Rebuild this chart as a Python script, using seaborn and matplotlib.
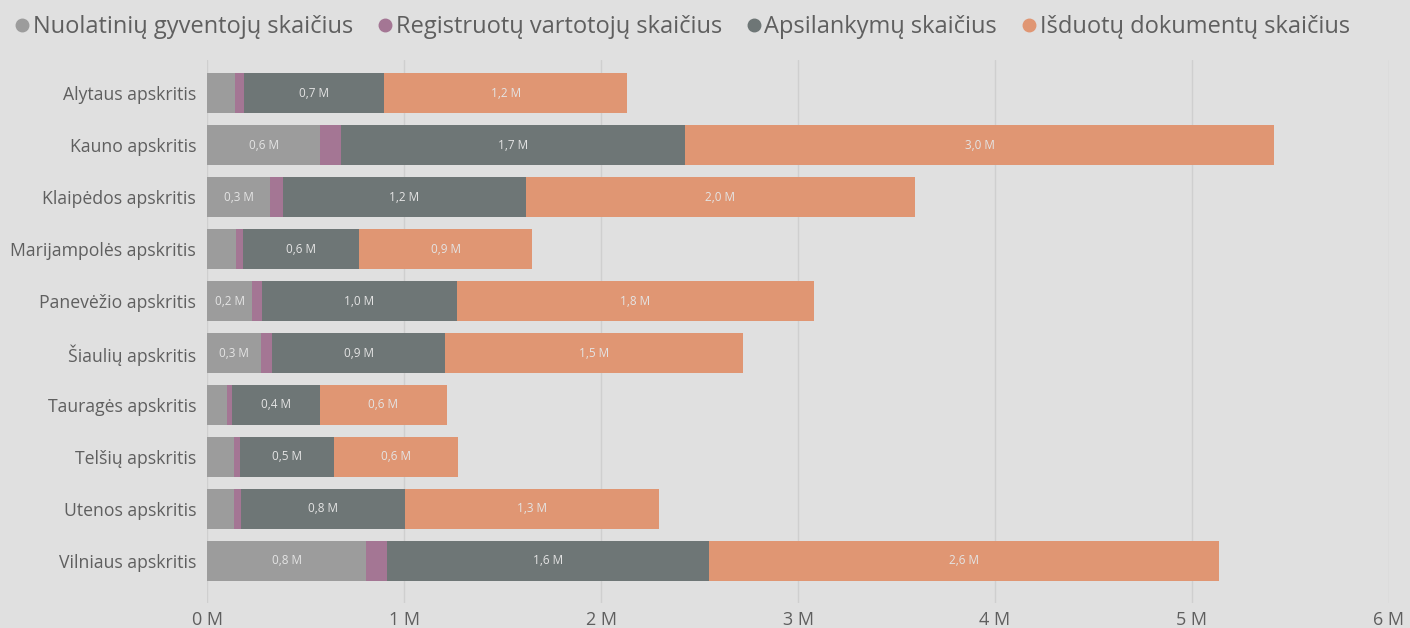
import numpy as np
import pandas as pd
import matplotlib
matplotlib.use("Agg")
import matplotlib.pyplot as plt
from matplotlib.lines import Line2D
import seaborn as sns

# data (millions)
regions = ["Alytaus apskritis", "Kauno apskritis", "Klaipėdos apskritis",
           "Marijampolės apskritis", "Panevėžio apskritis", "Šiaulių apskritis",
           "Tauragės apskritis", "Telšių apskritis", "Utenos apskritis",
           "Vilniaus apskritis"]
residents = [0.142, 0.574, 0.320, 0.147, 0.229, 0.275, 0.102, 0.137, 0.137, 0.808]
registered = [0.046, 0.107, 0.066, 0.036, 0.051, 0.056, 0.025, 0.030, 0.036, 0.107]
visits = [0.710, 1.744, 1.230, 0.590, 0.986, 0.874, 0.447, 0.478, 0.829, 1.632]
documents = [1.235, 2.994, 1.980, 0.874, 1.815, 1.515, 0.641, 0.630, 1.291, 2.588]

series_names = ["Nuolatinių gyventojų skaičius", "Registruotų vartotojų skaičius",
                "Apsilankymų skaičius", "Išduotų dokumentų skaičius"]
colors = ["#9c9c9c", "#a47694", "#6e7676", "#e09673"]
bg = "#e0e0e0"
txt = "#5f5f5f"

df = pd.DataFrame({"region": regions, series_names[0]: residents,
                   series_names[1]: registered, series_names[2]: visits,
                   series_names[3]: documents})
cum = df[series_names].cumsum(axis=1)

sns.set_theme(style="white")
plt.rcParams["font.family"] = ["Open Sans", "DejaVu Sans"]

fig = plt.figure(figsize=(14.1, 6.28), dpi=100, facecolor=bg)
ax = fig.add_axes([0.147, 0.04, 0.838, 0.864], facecolor=bg)

# stacked bars: draw cumulative totals from the outermost segment inward
for i in range(3, -1, -1):
    sns.barplot(x=cum[series_names[i]], y=df["region"], color=colors[i],
                orient="h", width=0.77, saturation=1, linewidth=0,
                edgecolor="none", ax=ax, zorder=2)

# segment labels
for i, name in enumerate(series_names):
    for j in range(len(regions)):
        v = df[name].iloc[j]
        if v < 0.2:
            continue
        start = cum[name].iloc[j] - v
        ax.text(start + v / 2, j, f"{v:.1f}".replace(".", ",") + " M",
                ha="center", va="center", fontsize=8.5, color="#e4e4e4", zorder=3)

ax.set_xlim(0, 6)
ax.set_ylim(9.81, -0.635)
ax.set_xticks(range(7))
ax.set_xticklabels([f"{k} M" for k in range(7)], fontsize=13, color=txt)
ax.tick_params(axis="y", labelsize=12.7, labelcolor=txt, length=0, pad=8)
ax.tick_params(axis="x", length=0, pad=6)
ax.set_xlabel("")
ax.set_ylabel("")
ax.grid(axis="x", color="#cfcfcf", linewidth=1, zorder=0)
ax.set_axisbelow(True)
for s in ax.spines.values():
    s.set_visible(False)

handles = [Line2D([], [], marker="o", linestyle="", markersize=9,
                  markerfacecolor=c, markeredgecolor=c) for c in colors]
fig.legend(handles, series_names, loc="upper left", bbox_to_anchor=(-0.006, 1.01),
           ncol=4, frameon=False, fontsize=17, labelcolor=txt,
           handletextpad=0.05, columnspacing=0.95, handlelength=0.8)

fig.savefig("out.png", dpi=100, facecolor=bg)
